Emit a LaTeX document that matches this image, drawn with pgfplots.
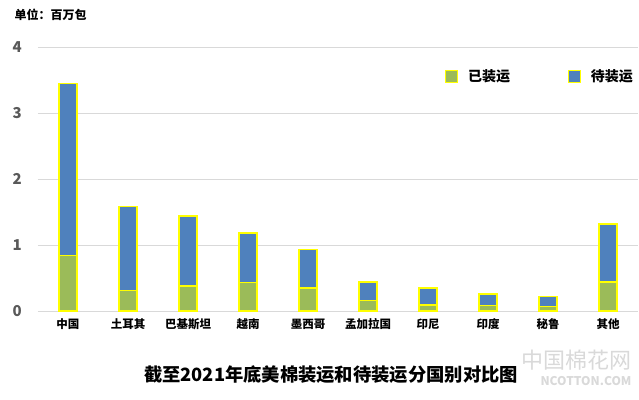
\documentclass[border=0pt]{standalone}
\usepackage{pgfplots}
\pgfplotsset{compat=1.18}
\usepackage{fontspec}
\setmainfont{Noto Sans CJK SC}
\definecolor{cgreen}{HTML}{9BBB59}
\definecolor{cblue}{HTML}{4F81BD}
\definecolor{cyel}{HTML}{FFFF00}
\definecolor{cgrid}{HTML}{D9D9D9}
\definecolor{ctick}{HTML}{595959}
\begin{document}
\begin{tikzpicture}[x=1pt,y=1pt]
\path[use as bounding box] (-38,-88) rectangle (601,311);
\begin{axis}[
  at={(0,0)}, anchor=south west,
  scale only axis, width=600pt, height=264pt,
  ybar stacked, bar width=18pt,
  xmin=-0.5, xmax=9.5, ymin=0, ymax=4,
  axis line style={draw=none},
  xtick=data,
  xticklabels={中国,土耳其,巴基斯坦,越南,墨西哥,孟加拉国,印尼,印度,秘鲁,其他},
  xticklabel style={font=\bfseries\fontsize{11.5}{13}\selectfont, yshift=-4pt},
  ytick={0,1,2,3,4},
  yticklabels={0,1,2,3,4},
  yticklabel style={font=\bfseries\fontsize{15}{17}\selectfont, text=ctick, anchor=east, inner sep=0pt, xshift=-16pt},
  major tick length=0pt,
  ymajorgrids, grid style={cgrid, line width=1pt},
  legend style={at={(1.0,0.89)}, anchor=east, draw=none, fill=none,
    font=\bfseries\fontsize{14}{16}\selectfont, legend columns=2,
    /tikz/every odd column/.append style={column sep=8pt},
    /tikz/every even column/.append style={column sep=56pt}},
  legend image code/.code={\draw[#1, draw=cyel, line width=0.8pt] (0pt,-6pt) rectangle (12pt,6pt);},
]
\addplot[fill=cgreen, draw=cyel, line width=1.5pt] coordinates {
(0,0.84) (1,0.31) (2,0.38) (3,0.43) (4,0.35) (5,0.16) (6,0.09) (7,0.08) (8,0.07) (9,0.44)};
\addlegendentry{已装运}
\addplot[fill=cblue, draw=cyel, line width=1.5pt] coordinates {
(0,2.61) (1,1.27) (2,1.06) (3,0.75) (4,0.58) (5,0.28) (6,0.26) (7,0.18) (8,0.15) (9,0.88)};
\addlegendentry{待装运}
\end{axis}
\node[anchor=west, font=\bfseries\fontsize{12}{14}\selectfont] at (-27,296) {单位：百万包};
\node[font=\bfseries\fontsize{18.3}{20}\selectfont] at (293,-64) {截至2021年底美棉装运和待装运分国别对比图};
\node[anchor=east, text=black!15, font=\fontsize{22}{24}\selectfont] at (597,-49) {中国棉花网};
\node[anchor=east, text=black!15, font=\bfseries\fontsize{12}{14}\selectfont] at (597,-70) {NCOTTON.COM};
\end{tikzpicture}
\end{document}
